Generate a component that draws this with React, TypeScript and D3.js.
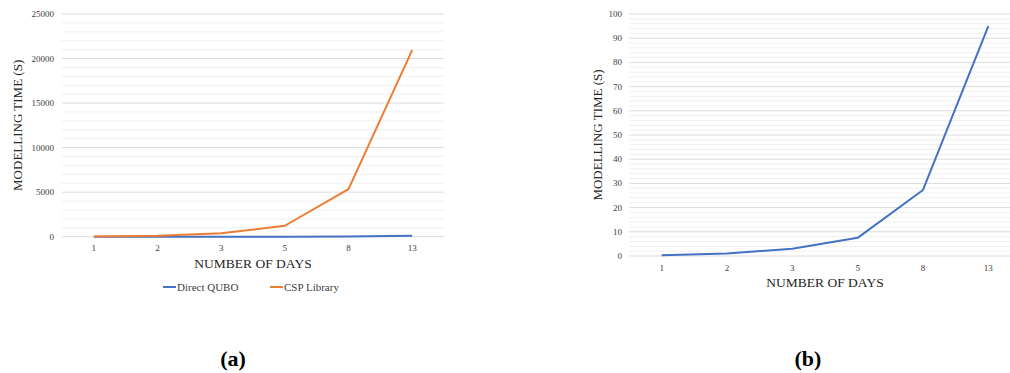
import React, { useEffect, useRef } from 'react';
import * as d3 from 'd3';

// number of days (categories on both charts)
const days = ['1', '2', '3', '5', '8', '13'];
// modelling time in seconds
const directQubo = [0.3, 1, 3, 7.5, 27.3, 95];
const cspLibrary = [25, 110, 380, 1230, 5350, 20950];

const leftTicks = [0, 5000, 10000, 15000, 20000, 25000];
const rightTicks = [0, 10, 20, 30, 40, 50, 60, 70, 80, 90, 100];

const FONT = '"Liberation Serif", "DejaVu Serif", serif';
const BLUE = '#4472c4';
const ORANGE = '#ed7d31';

type Series = { name: string; values: number[]; color: string };

function drawPanel(
  root: d3.Selection<SVGGElement, unknown, null, undefined>,
  opts: {
    x0: number; x1: number; y0: number; y1: number;
    max: number; major: number[]; minorStep: number;
    series: Series[]; titleX: number; tickX: number; xTickY: number; xTitleY: number;
  }
) {
  const { x0, x1, y0, y1, max, major, minorStep, series } = opts;
  const x = d3.scaleBand<string>().domain(days).range([x0, x1]);
  const y = d3.scaleLinear().domain([0, max]).range([y0, y1]);

  const clipId = `clip-${x0}`;
  root.append('clipPath').attr('id', clipId)
    .append('rect').attr('x', 0).attr('y', 0).attr('width', 1010).attr('height', 373);

  const g = root.append('g').attr('clip-path', `url(#${clipId})`);

  // minor gridlines
  const minor = d3.range(0, max + minorStep / 2, minorStep).filter(v => !major.includes(v));
  g.selectAll('line.minor').data(minor).enter().append('line')
    .attr('x1', x0).attr('x2', x1)
    .attr('y1', d => y(d)).attr('y2', d => y(d))
    .attr('stroke', '#f0f0f0').attr('stroke-width', 1);

  // major gridlines
  g.selectAll('line.major').data(major).enter().append('line')
    .attr('x1', x0).attr('x2', x1)
    .attr('y1', d => y(d)).attr('y2', d => y(d))
    .attr('stroke', '#dcdcdc').attr('stroke-width', 1);

  // y tick labels
  root.selectAll('text.ytick').data(major).enter().append('text')
    .attr('x', opts.tickX).attr('y', d => y(d) + 3)
    .attr('text-anchor', 'end')
    .attr('font-family', FONT).attr('font-size', 9).attr('fill', '#404040')
    .text(d => `${d}`);

  // x tick labels
  root.selectAll('text.xtick').data(days).enter().append('text')
    .attr('x', d => (x(d) ?? 0) + x.bandwidth() / 2).attr('y', opts.xTickY)
    .attr('text-anchor', 'middle')
    .attr('font-family', FONT).attr('font-size', 9).attr('fill', '#404040')
    .text(d => d);

  const line = d3.line<number>()
    .x((_, i) => (x(days[i]) ?? 0) + x.bandwidth() / 2)
    .y(d => y(d));

  series.forEach(s => {
    g.append('path').datum(s.values)
      .attr('d', line)
      .attr('fill', 'none')
      .attr('stroke', s.color)
      .attr('stroke-width', 2)
      .attr('stroke-linejoin', 'round');
  });

  // axis titles
  root.append('text')
    .attr('transform', `translate(${opts.titleX}, ${(y0 + y1) / 2}) rotate(-90)`)
    .attr('text-anchor', 'middle')
    .attr('font-family', FONT).attr('font-size', 13).attr('fill', '#262626')
    .text('MODELLING TIME (S)');

  root.append('text')
    .attr('x', (x0 + x1) / 2).attr('y', opts.xTitleY)
    .attr('text-anchor', 'middle')
    .attr('font-family', FONT).attr('font-size', 13.5).attr('fill', '#262626')
    .text('NUMBER OF DAYS');
}

const App = () => {
  const ref = useRef<SVGSVGElement>(null);

  useEffect(() => {
    const svg = d3.select(ref.current);
    svg.selectAll('*').remove();
    const root = svg.append('g');

    drawPanel(root, {
      x0: 62, x1: 444, y0: 236.7, y1: 14,
      max: 25000, major: leftTicks, minorStep: 1000,
      series: [
        { name: 'Direct QUBO', values: directQubo, color: BLUE },
        { name: 'CSP Library', values: cspLibrary, color: ORANGE },
      ],
      titleX: 22, tickX: 54, xTickY: 251, xTitleY: 268,
    });

    drawPanel(root, {
      x0: 629, x1: 1021, y0: 256, y1: 14,
      max: 100, major: rightTicks, minorStep: 2,
      series: [{ name: 'Direct QUBO', values: directQubo, color: BLUE }],
      titleX: 602, tickX: 622, xTickY: 271, xTitleY: 287,
    });

    // legend for the left chart
    const legend = [
      { name: 'Direct QUBO', color: BLUE, x: 163 },
      { name: 'CSP Library', color: ORANGE, x: 270 },
    ];
    const lg = root.selectAll('g.legend').data(legend).enter().append('g')
      .attr('transform', d => `translate(${d.x}, 287)`);
    lg.append('line').attr('x1', 0).attr('x2', 13).attr('y1', 0).attr('y2', 0)
      .attr('stroke', d => d.color).attr('stroke-width', 2);
    lg.append('text').attr('x', 14).attr('y', 4)
      .attr('font-family', FONT).attr('font-size', 11).attr('fill', '#404040')
      .text(d => d.name);

    // sub-figure captions
    root.append('text').attr('x', 233).attr('y', 366)
      .attr('text-anchor', 'middle').attr('font-family', '"Liberation Serif", serif')
      .attr('font-weight', 'bold').attr('font-size', 22).attr('fill', '#000')
      .text('(a)');
    root.append('text').attr('x', 808).attr('y', 366)
      .attr('text-anchor', 'middle').attr('font-family', '"Liberation Serif", serif')
      .attr('font-weight', 'bold').attr('font-size', 22).attr('fill', '#000')
      .text('(b)');
  }, []);

  return (
    <svg
      ref={ref}
      width={1010}
      height={373}
      style={{ position: 'absolute', left: 0, top: 0, background: '#fff' }}
    />
  );
};

export default App;
